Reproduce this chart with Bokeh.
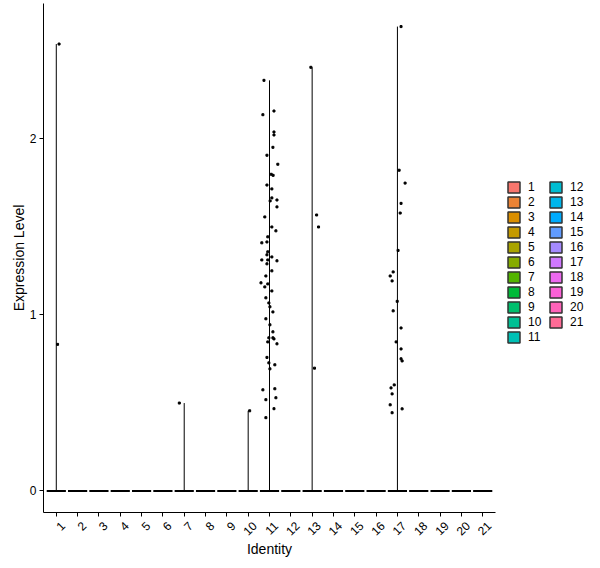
import math
from bokeh.plotting import figure
from bokeh.layouts import row
from bokeh.models import (FixedTicker, Legend, LegendItem, LinearAxis, Range1d,
                          CustomLabelingPolicy)
from bokeh.embed import file_html
from bokeh.resources import INLINE

# clusters (identity)
clusters = list(range(1, 22))

# non-zero expression values per cluster, with horizontal jitter (in category units)
expr = {
    1: [2.536, 0.832],
    7: [0.499],
    10: [0.455],
    11: [2.33, 2.156, 2.135, 2.037, 2.02, 1.95, 1.905, 1.854, 1.797, 1.791,
         1.736, 1.714, 1.663, 1.646, 1.651, 1.612, 1.555, 1.498, 1.476, 1.442,
         1.413, 1.408, 1.357, 1.34, 1.328, 1.311, 1.311, 1.306, 1.289, 1.249,
         1.22, 1.181, 1.175, 1.158, 1.135, 1.096, 1.067, 1.045, 1.016, 0.977,
         0.943, 0.903, 0.869, 0.869, 0.863, 0.846, 0.835, 0.758, 0.727, 0.716,
         0.693, 0.574, 0.58, 0.529, 0.518, 0.467, 0.416],
    13: [2.404, 1.566, 1.498, 0.697],
    17: [2.635, 1.82, 1.747, 1.632, 1.577, 1.365, 1.243, 1.22, 1.192, 1.076,
         1.022, 0.925, 0.846, 0.806, 0.75, 0.738, 0.602, 0.585, 0.551, 0.489,
         0.466, 0.444],
}
jitter = {
    1: [0.13, 0.06],
    7: [-0.23],
    10: [0.07],
    11: [-0.26, 0.21, -0.31, 0.21, 0.21, 0.16, -0.12, 0.39, 0.08, 0.17,
         -0.12, 0.11, 0.11, 0.03, 0.35, 0.35, -0.22, 0.11, 0.30, -0.08,
         -0.12, -0.36, -0.08, -0.12, 0.11, -0.36, -0.08, 0.35, -0.12, 0.11,
         -0.17, -0.40, -0.08, -0.22, 0.11, -0.17, -0.03, 0.02, 0.16, -0.17,
         0.02, 0.16, -0.03, 0.16, 0.21, -0.08, 0.35, -0.12, -0.03, 0.25,
         0.02, -0.31, 0.25, 0.30, -0.17, 0.21, -0.17],
    13: [-0.06, 0.21, 0.30, 0.11],
    17: [0.17, 0.08, 0.36, 0.17, 0.13, 0.03, -0.20, -0.34, -0.25, -0.01,
         -0.20, 0.17, -0.06, 0.17, 0.17, 0.22, -0.15, -0.30, -0.25, -0.34,
         0.22, -0.25],
}


def hcl_hex(h, c=100.0, l=65.0):
    # ggplot2 default hue palette colour (polar Luv -> sRGB)
    hr = math.radians(h)
    u, v = c * math.cos(hr), c * math.sin(hr)
    Y = ((l + 16) / 116) ** 3
    Xn, Yn, Zn = 0.95047, 1.0, 1.08883
    d = Xn + 15 * Yn + 3 * Zn
    up = u / (13 * l) + 4 * Xn / d
    vp = v / (13 * l) + 9 * Yn / d
    X = Y * 9 * up / (4 * vp)
    Z = Y * (12 - 3 * up - 20 * vp) / (4 * vp)
    rgb = [3.240479 * X - 1.537150 * Y - 0.498535 * Z,
           -0.969256 * X + 1.875992 * Y + 0.041556 * Z,
           0.055648 * X - 0.204043 * Y + 1.057311 * Z]
    out = []
    for t in rgb:
        t = 1.055 * t ** (1 / 2.4) - 0.055 if t > 0.0031308 else 12.92 * t
        out.append(int(round(min(max(t, 0), 1) * 255)))
    return "#%02X%02X%02X" % tuple(out)


colors = [hcl_hex(15 + i * 360 / len(clusters)) for i in range(len(clusters))]

H = 560
p = figure(width=500, height=H, x_range=(0.4, 21.6), y_range=(-0.122, 2.766),
           output_backend="svg", toolbar_location=None,
           min_border_left=43, min_border_right=5, min_border_top=3, min_border_bottom=48)
p.outline_line_color = None
p.grid.visible = False

# violins: almost all cells at zero, so each violin collapses to a flat line at 0
for c, col in zip(clusters, colors):
    p.quad(left=[c - 0.45], right=[c + 0.45], bottom=[0], top=[0],
           fill_color=col, line_color="black", line_width=2)

# thin violin tails up to the max value
tx = [c for c in clusters if c in expr]
ty = [max(expr[c]) for c in tx]
p.segment(x0=tx, y0=[0] * len(tx), x1=tx, y1=ty, line_color="black", line_width=1)

# jittered cells
px, py = [], []
for c in expr:
    for val, j in zip(expr[c], jitter[c]):
        px.append(c + j)
        py.append(val)
p.scatter(x=px, y=py, marker="square", size=2, color="black")

p.yaxis.ticker = FixedTicker(ticks=[0, 1, 2])
p.yaxis.axis_label = "Expression Level"
for ax in (p.xaxis, p.yaxis):
    ax.axis_line_color = "black"
    ax.axis_line_width = 1
    ax.major_tick_line_color = "black"
    ax.major_tick_in = 0
    ax.major_tick_out = 4
    ax.minor_tick_line_color = None
    ax.major_label_text_font = "Liberation Sans"
    ax.major_label_text_font_size = "12px"
    ax.major_label_text_color = "black"
    ax.axis_label_text_font = "Liberation Sans"
    ax.axis_label_text_font_size = "14px"
    ax.axis_label_text_font_style = "normal"
    ax.axis_label_text_color = "black"
p.yaxis.major_label_standoff = 3
p.yaxis.axis_label_standoff = 0

# x axis: ticks on the main axis, rotated labels on a second, slightly shifted axis
p.xaxis.ticker = FixedTicker(ticks=clusters)
p.xaxis.major_label_policy = CustomLabelingPolicy(code="return []")
p.xaxis.major_label_text_font_size = "1px"
p.xaxis.major_label_standoff = 0
p.extra_x_ranges = {"lab": Range1d(0.4 - 0.3, 21.6 - 0.3)}
lab = LinearAxis(x_range_name="lab", ticker=FixedTicker(ticks=clusters),
                 axis_line_color=None, major_tick_line_color=None, minor_tick_line_color=None,
                 major_tick_in=0, major_tick_out=0, major_label_standoff=3,
                 major_label_orientation=math.pi / 4,
                 major_label_text_font="Liberation Sans", major_label_text_font_size="12px",
                 major_label_text_color="black",
                 axis_label="Identity", axis_label_standoff=-1,
                 axis_label_text_font="Liberation Sans", axis_label_text_font_size="14px",
                 axis_label_text_font_style="normal", axis_label_text_color="black")
p.add_layout(lab, "below")

# legend panel (1-11, 12-21)
pl = figure(width=98, height=H, x_range=(0, 1), y_range=(0, 1),
            x_axis_location=None, y_axis_location=None, toolbar_location=None,
            output_backend="svg", min_border=0)
pl.outline_line_color = None
pl.grid.visible = False
items = []
for c, col in zip(clusters, colors):
    r = pl.quad(left=[2], right=[3], bottom=[2], top=[3],
                fill_color=col, line_color="#333333", line_width=1.5)
    items.append(LegendItem(label=str(c), renderers=[r]))
pl.add_layout(Legend(items=items, location=(6, 168), ncols=2,
                     glyph_width=15, glyph_height=14, label_height=14, label_width=19,
                     spacing=1, label_text_font="Liberation Sans", label_text_color="black",
                     label_text_font_size="12px", label_standoff=7, padding=4, margin=0,
                     border_line_color=None, background_fill_alpha=0))

open("out.html", "w").write(file_html(row(p, pl), INLINE))
